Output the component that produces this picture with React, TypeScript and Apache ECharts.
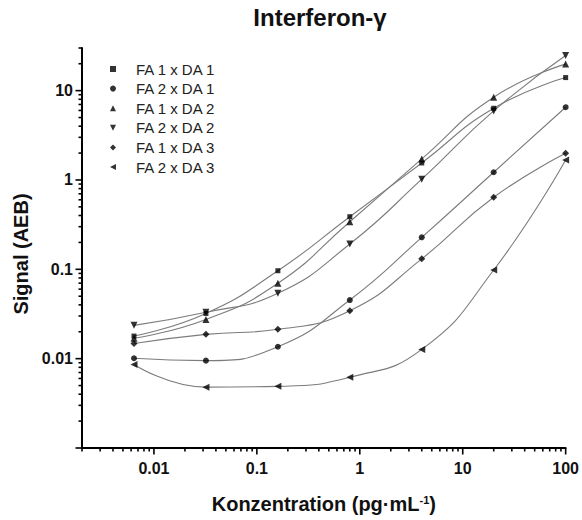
import React, { useEffect, useRef } from "react";
import * as echarts from "echarts";

// Concentration steps (5-fold dilution series), pg/mL
const concentrations = [0.0064, 0.032, 0.16, 0.8, 4, 20, 100];

const seriesNames = [
  "FA 1 x DA 1",
  "FA 2 x DA 1",
  "FA 1 x DA 2",
  "FA 2 x DA 2",
  "FA 1 x DA 3",
  "FA 2 x DA 3",
];

// Signal (AEB) per combination, one value per concentration
const fa1da1 = [0.0179, 0.0321, 0.0964, 0.388, 1.55, 6.35, 14.0];
const fa2da1 = [0.0101, 0.0095, 0.0136, 0.0453, 0.228, 1.22, 6.52];
const fa1da2 = [0.0169, 0.0275, 0.0697, 0.341, 1.72, 8.44, 19.8];
const fa2da2 = [0.0236, 0.033, 0.0539, 0.192, 1.02, 5.93, 24.7];
const fa1da3 = [0.0148, 0.0187, 0.0213, 0.0344, 0.131, 0.64, 1.99];
const fa2da3 = [0.0086, 0.0048, 0.0049, 0.0062, 0.0127, 0.0982, 1.67];

const signals = [fa1da1, fa2da1, fa1da2, fa2da2, fa1da3, fa2da3];

const symbols = [
  "rect",
  "circle",
  "triangle",
  "path://M0,0L10,0L5,10Z",
  "diamond",
  "path://M0,5L10,0L10,10Z",
];
const symbolSizes = [5, 6, 7, 7, 7, 7];

const xTickLabels = ["0.01", "0.1", "1", "10", "100"];
const yTickLabels = ["0.01", "0.1", "1", "10"];

const X_MIN = 0.002;
const X_MAX = 100;
const Y_MIN = 0.001;
const Y_MAX = 30;

const FONT = "'Liberation Sans', Arial, sans-serif";
const INK = "#111";

// Major (decade) and minor (2..9) positions of a logarithmic scale
function logTickValues(min: number, max: number): [number, number][] {
  const out: [number, number][] = [];
  const e0 = Math.floor(Math.log10(min));
  const e1 = Math.ceil(Math.log10(max));
  for (let e = e0; e <= e1; e++) {
    for (let m = 1; m <= 9; m++) {
      const v = m * Math.pow(10, e);
      if (v >= min * (1 - 1e-9) && v <= max * (1 + 1e-9)) out.push([v, m === 1 ? 1 : 0]);
    }
  }
  return out;
}

function decadeFormatter(labels: string[]) {
  return (v: number) => {
    const e = Math.log10(v);
    if (Math.abs(e - Math.round(e)) > 1e-6) return "";
    const hit = labels.find((l) => Math.abs(Math.log10(parseFloat(l)) - e) < 1e-6);
    return hit ?? "";
  };
}

function buildOption(): echarts.EChartsOption {
  const lineSeries = signals.map((vals, i) => ({
    type: "line" as const,
    name: `${seriesNames[i]} fit`,
    data: concentrations.map((c, j) => [c, vals[j]]),
    smooth: 0.5,
    showSymbol: false,
    silent: true,
    z: 2,
    lineStyle: { color: "#7c7c7c", width: 1.1 },
  }));

  const markerSeries = signals.map((vals, i) => ({
    type: "scatter" as const,
    name: seriesNames[i],
    data: concentrations.map((c, j) => [c, vals[j]]),
    symbol: symbols[i],
    symbolSize: symbolSizes[i],
    symbolKeepAspect: true,
    itemStyle: { color: "#000" },
    z: 4,
  }));

  const xTicks = {
    type: "custom" as const,
    name: "x-ticks",
    silent: true,
    clip: false,
    z: 6,
    data: logTickValues(X_MIN, X_MAX).map(([v, major]) => [v, Y_MIN, major]),
    renderItem: (_p: any, api: any) => {
      const pt = api.coord([api.value(0), api.value(1)]);
      const len = api.value(2) ? 6.5 : 3.5;
      return {
        type: "line",
        shape: { x1: pt[0], y1: pt[1], x2: pt[0], y2: pt[1] + len },
        style: { stroke: "#000", lineWidth: 1.6 },
      };
    },
  };

  const yTicks = {
    type: "custom" as const,
    name: "y-ticks",
    silent: true,
    clip: false,
    z: 6,
    data: logTickValues(Y_MIN, Y_MAX).map(([v, major]) => [X_MIN, v, major]),
    renderItem: (_p: any, api: any) => {
      const pt = api.coord([api.value(0), api.value(1)]);
      const len = api.value(2) ? 6.5 : 3.5;
      return {
        type: "line",
        shape: { x1: pt[0] - len, y1: pt[1], x2: pt[0], y2: pt[1] },
        style: { stroke: "#000", lineWidth: 1.6 },
      };
    },
  };

  return {
    animation: false,
    backgroundColor: "#fff",
    title: {
      text: "Interferon-γ",
      left: 320,
      top: 5,
      textAlign: "center",
      padding: 0,
      textStyle: { fontFamily: FONT, fontSize: 24, fontWeight: "bold", color: INK },
    },
    legend: {
      orient: "vertical",
      left: 110,
      top: 61,
      padding: 0,
      itemGap: 3.6,
      itemWidth: 6,
      itemHeight: 6,
      data: seriesNames.map((n, i) => ({ name: n, icon: symbols[i] })),
      textStyle: {
        fontFamily: FONT,
        fontSize: 15,
        color: "#222",
        lineHeight: 16,
        padding: [0, 0, 0, 15],
      },
      selectedMode: false,
    },
    grid: { left: 82, top: 48, width: 486, height: 400, containLabel: false },
    xAxis: {
      type: "log",
      logBase: 10,
      min: X_MIN,
      max: X_MAX,
      axisLine: { show: true, lineStyle: { color: "#000", width: 2 } },
      axisTick: { show: false },
      splitLine: { show: false },
      axisLabel: {
        formatter: decadeFormatter(xTickLabels),
        margin: 12,
        fontFamily: FONT,
        fontSize: 16,
        fontWeight: "bold",
        color: INK,
        showMinLabel: true,
        showMaxLabel: true,
      },
      name: "Konzentration (pg·mL{sup|-1})",
      nameLocation: "middle",
      nameGap: 46,
      nameTextStyle: {
        fontFamily: FONT,
        fontSize: 20,
        fontWeight: "bold",
        color: INK,
        rich: {
          sup: {
            fontFamily: FONT,
            fontSize: 11,
            fontWeight: "bold",
            color: INK,
            verticalAlign: "top",
          },
        },
      },
    },
    yAxis: {
      type: "log",
      logBase: 10,
      min: Y_MIN,
      max: Y_MAX,
      axisLine: { show: true, lineStyle: { color: "#000", width: 2 } },
      axisTick: { show: false },
      splitLine: { show: false },
      axisLabel: {
        formatter: decadeFormatter(yTickLabels),
        margin: 9,
        fontFamily: FONT,
        fontSize: 16,
        fontWeight: "bold",
        color: INK,
      },
      name: "Signal (AEB)",
      nameLocation: "middle",
      nameGap: 41,
      nameTextStyle: {
        fontFamily: FONT,
        fontSize: 20,
        fontWeight: "bold",
        color: INK,
        padding: [0, 12, 0, 0],
      },
    },
    series: [...lineSeries, ...markerSeries, xTicks, yTicks] as any,
  };
}

export default function App() {
  const ref = useRef<HTMLDivElement>(null);
  useEffect(() => {
    if (!ref.current) return;
    const chart = echarts.init(ref.current, undefined, { renderer: "svg" });
    chart.setOption(buildOption());
    return () => chart.dispose();
  }, []);
  return (
    <div
      ref={ref}
      style={{ position: "fixed", left: 0, top: 0, width: 582, height: 520, background: "#fff" }}
    />
  );
}
